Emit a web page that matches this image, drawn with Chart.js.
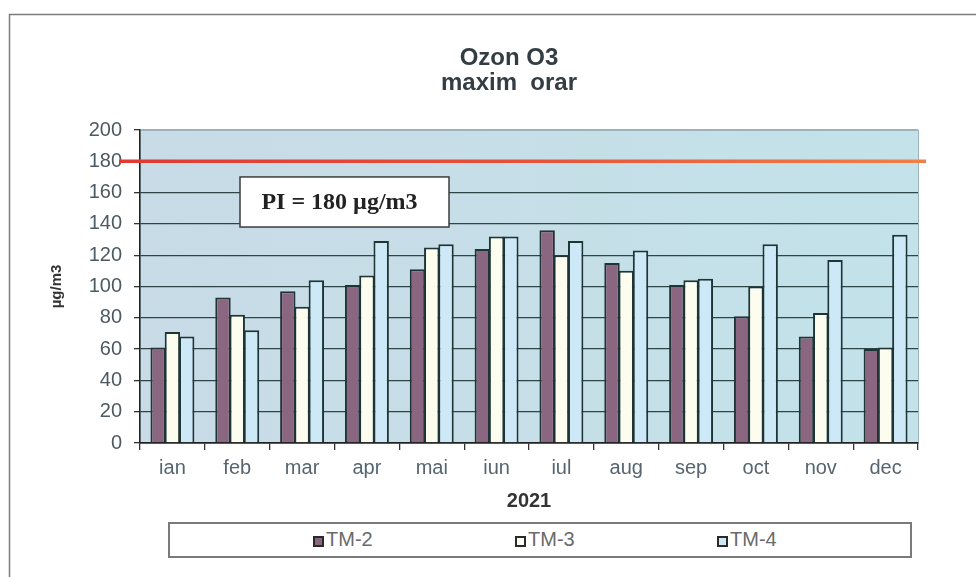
<!DOCTYPE html>
<html>
<head>
<meta charset="utf-8">
<script src="https://cdn.jsdelivr.net/npm/chart.js@4.4.1/dist/chart.umd.min.js"></script>
<style>
body { margin: 0; background: #fff; }
#wrap { position: relative; width: 976px; height: 577px; overflow: hidden; }
#legend { position: absolute; left: 168px; top: 522px; width: 740px; height: 32px; border: 2px solid #7a7a7a; background: #fff; }
#legend .item { position: absolute; top: 4px; height: 28px; line-height: 28px; font: 20px 'Liberation Sans', Arial, sans-serif; color: #6a6a6a; white-space: nowrap; }
#legend .box { display: inline-block; width: 11px; height: 11px; box-sizing: border-box; border: 2px solid #2a2a2a; margin-right: 2px; vertical-align: -1px; }
</style>
</head>
<body>
<div id="wrap">
<canvas id="chart" width="976" height="577"></canvas>
<div id="legend"></div>
</div>
<script>
var months = ['ian', 'feb', 'mar', 'apr', 'mai', 'iun', 'iul', 'aug', 'sep', 'oct', 'nov', 'dec'];
var tm2 = [61, 93, 97, 101, 111, 124, 136, 115, 101, 81, 68, 60];
var tm3 = [71, 82, 87, 107, 125, 132, 120, 110, 104, 100, 83, 61];
var tm4 = [68, 72, 104, 129, 127, 132, 129, 123, 105, 127, 117, 133];
var seriesNames = ['TM-2', 'TM-3', 'TM-4'];
var seriesColors = ['#8b6680', '#fdfdef', '#cde8f6'];
var PI_LIMIT = 180;
var PI_TEXT = 'PI = 180 \u00b5g/m3';

var fontSans = "'Liberation Sans', Arial, sans-serif";

var decor = {
	id: 'decor',
	beforeDraw: function(chart) {
		var c = chart.ctx, a = chart.chartArea;
		c.save();
		c.fillStyle = '#fff';
		c.fillRect(0, 0, chart.width, chart.height);
		c.strokeStyle = '#7d7d7d';
		c.lineWidth = 1.5;
		c.strokeRect(9.5, 14.5, 1100, 700);
		var g = c.createLinearGradient(a.left, 0, a.right, 0);
		g.addColorStop(0, '#c8dbe6');
		g.addColorStop(1, '#c3e2e9');
		c.fillStyle = g;
		c.fillRect(a.left, a.top, a.right - a.left, a.bottom - a.top);
		c.strokeStyle = '#9bb3bb';
		c.lineWidth = 1;
		c.strokeRect(a.left + 0.5, a.top + 0.5, a.right - a.left, a.bottom - a.top);
		c.restore();
	},
	afterDraw: function(chart) {
		var c = chart.ctx, a = chart.chartArea, y = chart.scales.y;
		var py = y.getPixelForValue(PI_LIMIT);
		c.save();
		var g = c.createLinearGradient(a.left - 21, 0, a.right + 8, 0);
		g.addColorStop(0, '#e03a33');
		g.addColorStop(0.5, '#e8503a');
		g.addColorStop(1, '#f28045');
		c.strokeStyle = g;
		c.lineWidth = 3.5;
		c.beginPath();
		c.moveTo(a.left - 21, py);
		c.lineTo(a.right + 8, py);
		c.stroke();

		// PI label box
		var bx = a.left + 100, by = y.getPixelForValue(170), bw = 209, bh = y.getPixelForValue(138) - by;
		c.fillStyle = '#fff';
		c.fillRect(bx, by, bw, bh);
		c.strokeStyle = '#3c3c3c';
		c.lineWidth = 1.5;
		c.strokeRect(bx, by, bw, bh);
		c.fillStyle = '#222';
		c.font = "bold 24px 'Liberation Serif', 'Times New Roman', serif";
		c.textAlign = 'center';
		c.textBaseline = 'middle';
		c.fillText(PI_TEXT, bx + bw / 2 - 5, by + bh / 2 + 1);
		c.restore();
	}
};

var ds = [tm2, tm3, tm4].map(function(vals, i) {
	return {
		label: seriesNames[i],
		data: vals,
		backgroundColor: seriesColors[i],
		borderColor: '#1f3434',
		borderWidth: 2,
		barPercentage: 1.08,
		categoryPercentage: 0.66
	};
});

var chart = new Chart(document.getElementById('chart'), {
	type: 'bar',
	data: { labels: months, datasets: ds },
	options: {
		responsive: false,
		animation: false,
		devicePixelRatio: 1,
		layout: { padding: { left: 42, right: 0, top: 0, bottom: 64 } },
		plugins: {
			legend: { display: false },
			tooltip: { enabled: false },
			title: {
				display: true,
				text: ['Ozon O3', 'maxim  orar'],
				color: '#333d42',
				font: { family: fontSans, size: 24, weight: 'bold', lineHeight: 1.03 },
				padding: { top: 46.2, bottom: 34.36 }
			}
		},
		scales: {
			x: {
				grid: { drawOnChartArea: false, drawTicks: true, tickLength: 7, color: '#333', lineWidth: 1.3, offset: true },
				border: { display: true, color: '#222', width: 1.5 },
				ticks: { color: '#566570', padding: 6, font: { family: fontSans, size: 20 } },
				title: { display: true, text: '2021', color: '#333', font: { family: fontSans, size: 20, weight: 'bold' }, padding: { top: 0, bottom: 0 } },
				afterFit: function(s) { s.height = 70; }
			},
			y: {
				min: 0,
				max: 200,
				ticks: { stepSize: 20, color: '#4d5a62', padding: 12, font: { family: fontSans, size: 20 } },
				grid: {
					color: function(ctx) { return ctx.tick && ctx.tick.value === 200 ? '#9bb3bb' : '#2e4548'; },
					tickColor: '#333',
					lineWidth: 1.3,
					tickLength: 6
				},
				border: { display: true, color: '#222', width: 1.5 },
				title: { display: true, text: '\u00b5g/m3', color: '#333', font: { family: fontSans, size: 15, weight: 'bold' }, padding: { top: 6, bottom: 0 } },
				afterFit: function(s) { s.width = 98; }
			},
			y2: {
				position: 'right',
				display: true,
				grid: { display: false },
				border: { display: false },
				ticks: { display: false },
				afterFit: function(s) { s.width = 58; }
			}
		}
	},
	plugins: [decor]
});

// html legend built from the chart datasets
var leg = document.getElementById('legend');
chart.data.datasets.forEach(function(d, i) {
	var it = document.createElement('span');
	it.className = 'item';
	it.style.left = (143 + i * 202) + 'px';
	var b = document.createElement('span');
	b.className = 'box';
	b.style.background = d.backgroundColor;
	it.appendChild(b);
	it.appendChild(document.createTextNode(d.label));
	leg.appendChild(it);
});
</script>
</body>
</html>
